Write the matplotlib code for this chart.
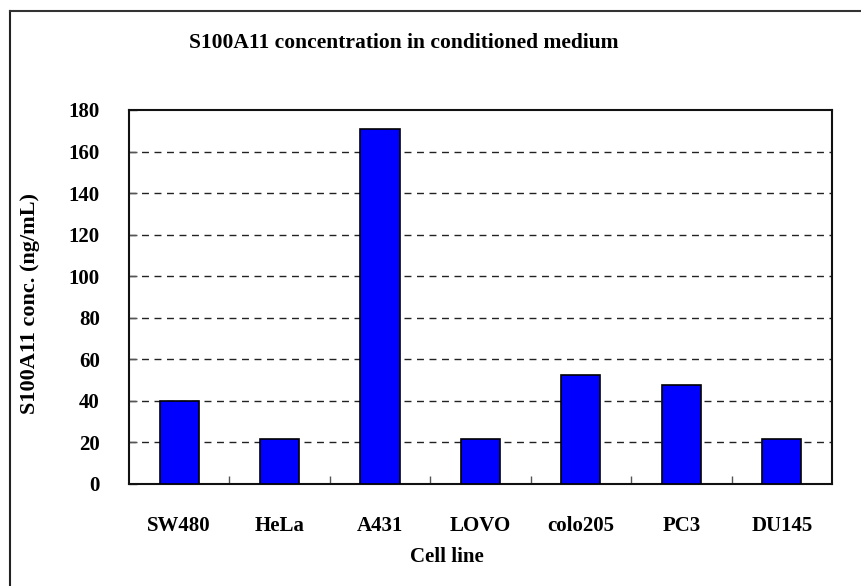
import numpy as np
import matplotlib
matplotlib.use('Agg')
import matplotlib.pyplot as plt
from matplotlib.lines import Line2D

cell_lines = ['SW480', 'HeLa', 'A431', 'LOVO', 'colo205', 'PC3', 'DU145']
conc = [39.8, 21.4, 170.8, 21.4, 52.2, 47.5, 21.4]
yticks = [0, 20, 40, 60, 80, 100, 120, 140, 160, 180]

plt.rcParams['font.family'] = ['Liberation Serif', 'DejaVu Serif']
plt.rcParams['font.weight'] = 'bold'

fig = plt.figure(figsize=(8.61, 5.86), dpi=100)
ax = fig.add_axes([0.1498, 0.1747, 0.8165, 0.6376])

x = np.arange(len(cell_lines))
ax.bar(x, conc, width=0.39, color='#0000FF', edgecolor='black', linewidth=1.2, zorder=3)

ax.set_ylim(0, 180)
ax.set_xlim(-0.5, len(cell_lines) - 0.5)
ax.set_yticks(yticks)
ax.set_yticklabels([str(v) for v in yticks], fontsize=15, fontweight='bold')
ax.set_xticks(x)
ax.set_xticklabels(cell_lines, fontsize=15, fontweight='bold')
ax.set_xticks(np.arange(0.5, len(cell_lines) - 1, 1.0), minor=True)
ax.tick_params(axis='x', which='major', length=0, pad=23)
ax.tick_params(axis='x', which='minor', direction='in', length=6, width=1, color='#555555')
ax.tick_params(axis='y', direction='in', length=6, width=1, pad=21, color='#555555')

for v in yticks[1:-1]:
    ax.axhline(v, color='#222222', linestyle=(0, (5, 4)), linewidth=1, zorder=1)

for s in ax.spines.values():
    s.set_linewidth(1.5)
    s.set_color('#111111')

fig.text(404 / 861, 1 - 43 / 586, 'S100A11 concentration in conditioned medium',
         ha='center', va='center', fontsize=15.5, fontweight='bold')
fig.text(447 / 861, 1 - 557 / 586, 'Cell line', ha='center', va='center',
         fontsize=15, fontweight='bold')
fig.text(30 / 861, 1 - 303 / 586, 'S100A11 conc. (ng/mL)', ha='center', va='center',
         rotation=90, fontsize=16, fontweight='bold')

# outer frame (only left and top edges show in the crop)
fig.add_artist(Line2D([10 / 861, 10 / 861], [0, 1 - 11 / 586], transform=fig.transFigure,
                      color='#222222', linewidth=1.5))
fig.add_artist(Line2D([10 / 861, 1], [1 - 11 / 586, 1 - 11 / 586], transform=fig.transFigure,
                      color='#333333', linewidth=1.5))

fig.savefig('out.png', dpi=100)
